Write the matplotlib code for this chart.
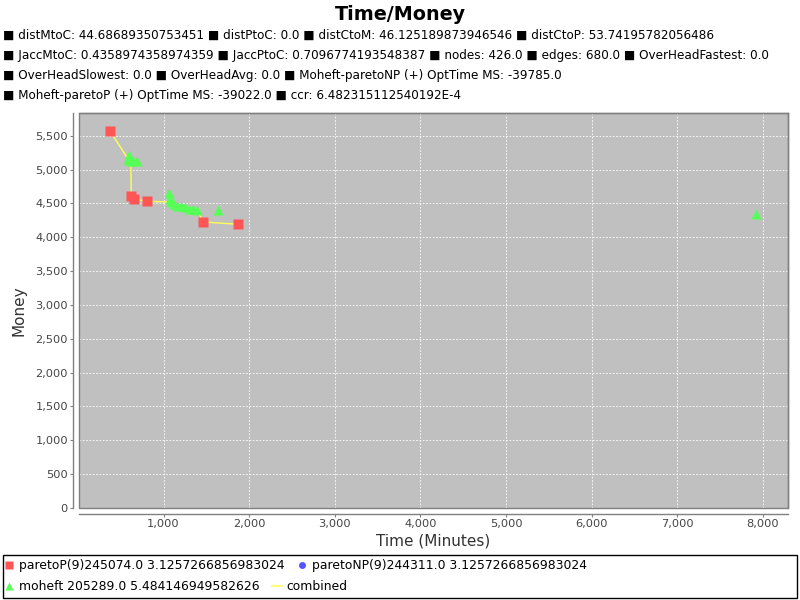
import matplotlib
matplotlib.use("Agg")
import matplotlib.pyplot as plt
from matplotlib.lines import Line2D
from matplotlib.patches import Rectangle
from matplotlib.ticker import FuncFormatter, MultipleLocator

# ---- data ----
paretoP_time = [378, 624, 659, 811, 1464, 1873]
paretoP_money = [5566, 4610, 4561, 4531, 4226, 4192]

paretoNP_time = [378, 624, 659, 811, 1464, 1873]
paretoNP_money = [5566, 4610, 4561, 4531, 4226, 4192]

moheft_time = [593, 585, 597, 617, 644, 687, 1067, 1076, 1087, 1122, 1157, 1204,
               1251, 1297, 1344, 1391, 1640, 7915]
moheft_money = [5216, 5157, 5142, 5131, 5127, 5120, 4659, 4565, 4521, 4492, 4469,
                4455, 4440, 4425, 4418, 4410, 4403, 4339]

combined_time = [378, 585, 617, 624, 659, 811, 1087, 1122, 1157, 1204, 1251, 1297,
                 1344, 1391, 1464, 1873]
combined_money = [5566, 5157, 5131, 4610, 4561, 4531, 4521, 4492, 4469, 4455, 4440,
                  4425, 4418, 4410, 4226, 4192]

title = "Time/Money"
subtitle_lines = [
    ["distMtoC: 44.68689350753451", "distPtoC: 0.0", "distCtoM: 46.125189873946546",
     "distCtoP: 53.74195782056486"],
    ["JaccMtoC: 0.4358974358974359", "JaccPtoC: 0.7096774193548387", "nodes: 426.0",
     "edges: 680.0", "OverHeadFastest: 0.0"],
    ["OverHeadSlowest: 0.0", "OverHeadAvg: 0.0", "Moheft-paretoNP (+) OptTime MS: -39785.0"],
    ["Moheft-paretoP (+) OptTime MS: -39022.0", "ccr: 6.482315112540192E-4"],
]
legend_labels = ["paretoP(9)245074.0 3.1257266856983024",
                 "paretoNP(9)244311.0 3.1257266856983024",
                 "moheft 205289.0 5.484146949582626",
                 "combined"]

# ---- figure ----
W, H = 800, 600
fig = plt.figure(figsize=(8, 6), dpi=100)
fig.patch.set_facecolor("white")

def fx(px):
    return px / W

def fy(py):
    return 1 - py / H

left, right, top, bottom = 79, 788, 113, 508
ax = fig.add_axes([fx(left), fy(bottom), (right - left) / W, (bottom - top) / H])
ax.set_facecolor("#C0C0C0")

ax.plot(combined_time, combined_money, color="#FFFF55", lw=1.0, zorder=2)
ax.plot(moheft_time, moheft_money, ls="none", marker="^", ms=7, color="#55FF55",
        mec="none", zorder=3)
ax.plot(paretoNP_time, paretoNP_money, ls="none", marker="o", ms=5, color="#5555FF",
        mec="none", zorder=4)
ax.plot(paretoP_time, paretoP_money, ls="none", marker="s", ms=7, color="#FF5555",
        mec="none", zorder=5)

ax.set_xlim(13, 8292)
ax.set_ylim(0, 5836)
ax.xaxis.set_major_locator(MultipleLocator(1000))
ax.yaxis.set_major_locator(MultipleLocator(500))
fmt = FuncFormatter(lambda v, p: f"{int(round(v)):,}")
ax.xaxis.set_major_formatter(fmt)
ax.yaxis.set_major_formatter(fmt)
ax.grid(True, color="white", ls=(0, (2, 2)), lw=0.6)
ax.set_axisbelow(True)

for s in ["top", "right"]:
    ax.spines[s].set_color("#808080")
    ax.spines[s].set_linewidth(1.0)
for s in ["left", "bottom"]:
    ax.spines[s].set_position(("outward", 4))
    ax.spines[s].set_color("#808080")
    ax.spines[s].set_linewidth(1.0)
ax.add_patch(Rectangle((0, 0), 1, 1, transform=ax.transAxes, fill=False,
                       ec="#808080", lw=1.0, zorder=6, clip_on=False))
ax.tick_params(axis="both", colors="#808080", labelcolor="#444444", labelsize=8.2,
               length=2, width=0.8, pad=2)

ax.set_xlabel("Time (Minutes)", fontsize=11, color="#333333", labelpad=3)
ax.set_ylabel("Money", fontsize=11, color="#333333", labelpad=6)

# title and subtitles
fig.text(0.5, fy(14), title, ha="center", va="center", fontsize=13.8,
         fontweight="bold", color="black")
for i, items in enumerate(subtitle_lines):
    line = " ".join("\u25A0 " + it for it in items)
    fig.text(fx(3), fy(35 + 20 * i), line, ha="left", va="center", fontsize=8.65,
             color="black")

# legend box
fig.patches.append(Rectangle((fx(3), fy(598)), (797 - 3) / W, (598 - 555) / H,
                             transform=fig.transFigure, fill=False, ec="black",
                             lw=1.0))
h1 = [Line2D([], [], ls="none", marker="s", ms=6, color="#FF5555", mec="none"),
      Line2D([], [], ls="none", marker="o", ms=5, color="#5555FF", mec="none")]
h2 = [Line2D([], [], ls="none", marker="^", ms=6, color="#55FF55", mec="none"),
      Line2D([], [], color="#FFFF55", lw=1.2)]
fig.legend(h1, legend_labels[:2], loc="center left",
           bbox_to_anchor=(fx(4), fy(566)), ncol=2, frameon=False,
           fontsize=8.9, handlelength=0.8, handletextpad=0.4,
           columnspacing=1.0, borderpad=0, borderaxespad=0)
fig.legend(h2, legend_labels[2:], loc="center left",
           bbox_to_anchor=(fx(4), fy(587)), ncol=2, frameon=False,
           fontsize=8.9, handlelength=0.8, handletextpad=0.4,
           columnspacing=1.0, borderpad=0, borderaxespad=0)

fig.savefig("out.png", dpi=100)
